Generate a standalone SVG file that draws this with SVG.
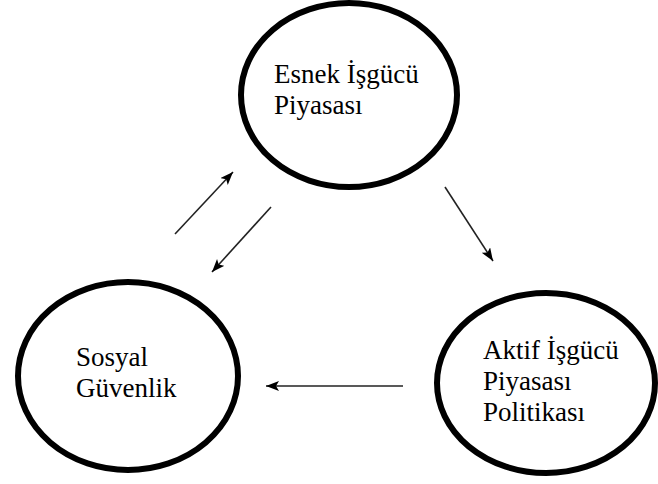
<svg xmlns="http://www.w3.org/2000/svg" width="658" height="484" viewBox="0 0 658 484">
<style>
.node ellipse{fill:#fff;stroke:#000;stroke-width:6}
.node text{font-family:'Liberation Serif','DejaVu Serif',serif;font-size:27px;fill:#000}
.conn line{stroke:#222;stroke-width:1.6;marker-end:url(#ah)}
</style>
<defs>
<marker id="ah" markerUnits="userSpaceOnUse" markerWidth="14" markerHeight="12" refX="13" refY="5" orient="auto">
<path d="M0,0 L13,5 L0,10 L3,5 Z" fill="#000"/>
</marker>
</defs>
<rect width="658" height="484" fill="#fff"/>
<g id="esnek" class="node">
<ellipse cx="349" cy="95" rx="108" ry="92"/>
<text x="274" y="83">Esnek İşgücü</text>
<text x="274" y="114">Piyasası</text>
</g>
<g id="sosyal" class="node">
<ellipse cx="128" cy="376" rx="110" ry="94"/>
<text x="76" y="366">Sosyal</text>
<text x="76" y="397">Güvenlik</text>
</g>
<g id="aktif" class="node">
<ellipse cx="546" cy="383" rx="109" ry="90"/>
<text x="483" y="359">Aktif İşgücü</text>
<text x="483" y="390">Piyasası</text>
<text x="483" y="421">Politikası</text>
</g>
<g id="connectors" class="conn">
<line x1="175" y1="234" x2="233" y2="172"/>
<line x1="271" y1="207" x2="212" y2="272"/>
<line x1="445" y1="187" x2="493" y2="261"/>
<line x1="403" y1="386" x2="266" y2="386"/>
</g>
</svg>
